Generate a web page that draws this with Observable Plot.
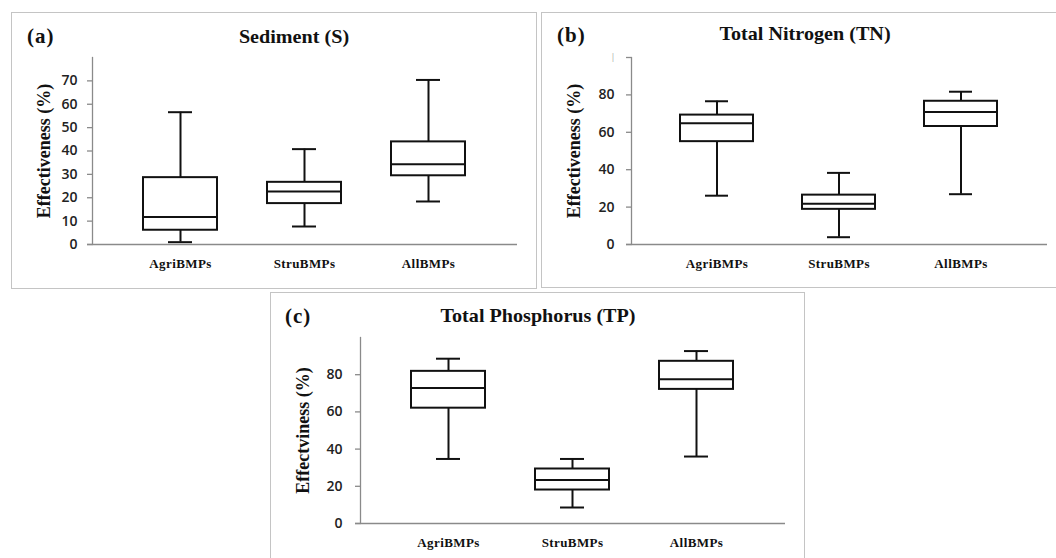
<!DOCTYPE html>
<html>
<head>
<meta charset="utf-8">
<script src="https://cdn.jsdelivr.net/npm/d3@7"></script>
<script src="https://cdn.jsdelivr.net/npm/@observablehq/plot@0.6"></script>
<style>
html, body { margin: 0; padding: 0; background: #fff; width: 1056px; height: 558px; overflow: hidden; }
body { position: relative; }
.border { position: absolute; box-sizing: border-box; border: 1.5px solid #c4c4c4; }
.holder { position: absolute; }
.holder svg { display: block; }
.ttl { position: absolute; font-family: "Liberation Serif", serif; font-weight: bold; white-space: nowrap; line-height: 1; color: #111; }
.ctr { transform: translateX(-50%) scaleX(1.06); }
g[aria-label="x-axis tick label"] text { letter-spacing: 0.4px; }
</style>
</head>
<body>
<div class="border" style="left:11px;top:12px;width:526px;height:277px"></div>
<div class="border" style="left:541px;top:11.5px;width:530px;height:276px"></div>
<div class="border" style="left:269.5px;top:292px;width:535px;height:290px"></div>

<div class="holder" id="pa" style="left:11px;top:12px"></div>
<div class="holder" id="pb" style="left:541px;top:12px"></div>
<div class="holder" id="pc" style="left:270px;top:292px"></div>

<div class="ttl" style="left:27px;top:26px;font-size:21px;letter-spacing:1px">(a)</div>
<div class="ttl ctr" style="left:294px;top:27px;font-size:19px">Sediment (S)</div>
<div class="ttl" style="left:557px;top:25px;font-size:21px;letter-spacing:1px">(b)</div>
<div class="ttl ctr" style="left:805px;top:24px;font-size:19px">Total Nitrogen (TN)</div>
<div class="ttl" style="left:285px;top:306px;font-size:21px;letter-spacing:1px">(c)</div>
<div class="ttl ctr" style="left:538px;top:306px;font-size:19px">Total Phosphorus (TP)</div>

<script>
const categories = ["AgriBMPs", "StruBMPs", "AllBMPs"];

// Sediment (S)
const sedMin = [1, 7.7, 18.4];
const sedQ1 = [6.1, 17.5, 29.4];
const sedMed = [11.8, 22.7, 34.3];
const sedQ3 = [28.6, 26.6, 43.9];
const sedMax = [56.6, 40.8, 70.4];

// Total Nitrogen (TN)
const tnMin = [26.1, 3.9, 26.9];
const tnQ1 = [55, 18.8, 63.1];
const tnMed = [64.9, 21.8, 70.8];
const tnQ3 = [69.2, 26.4, 76.6];
const tnMax = [76.6, 38.3, 81.7];

// Total Phosphorus (TP)
const tpMin = [34.7, 8.6, 36];
const tpQ1 = [62, 18, 72.1];
const tpMed = [72.8, 23.4, 77.5];
const tpQ3 = [81.8, 29.3, 87.2];
const tpMax = [88.6, 34.7, 92.7];

const sedTicks = [0, 10, 20, 30, 40, 50, 60, 70];
const nutTicks = [0, 20, 40, 60, 80];
const sedYMax = 80;
const nutYMax = 100;
const labelA = "Effectiveness (%)";
const labelB = "Effectiveness (%)";
const labelC = "Effectviness (%)";

function rows(mn, q1, md, q3, mx) {
  return categories.map((c, i) => ({cat: c, min: mn[i], q1: q1[i], med: md[i], q3: q3[i], max: mx[i]}));
}

function panel({data, yMax, ticks, tickTop, ylabel, labelDx, tickPadding, width, height, margins, extra = []}) {
  const box = {stroke: "#111", strokeWidth: 2};
  const allTicks = tickTop != null ? [...ticks, tickTop] : ticks;
  return Plot.plot({
    width, height, ...margins,
    style: {background: "transparent", overflow: "visible", fontFamily: "'Open Sans', sans-serif", fontSize: "14px"},
    x: {type: "band", domain: categories, padding: 0.4},
    y: {domain: [0, yMax]},
    marks: [
      Plot.frame({anchor: "left", stroke: "#8a8a8a", strokeWidth: 1.3}),
      Plot.axisY({ticks: allTicks, tickFormat: d => (d === tickTop ? "" : d), tickSize: 5, tickPadding,
        stroke: "#8a8a8a", strokeWidth: 1.3, fill: "#222", fontSize: 14, fontWeight: 600,
        fontFamily: "'Open Sans', sans-serif", label: null}),
      Plot.axisX({tickSize: 0, tickPadding: 14, fontFamily: "'Liberation Serif', serif", fontWeight: "bold",
        fontSize: 13, fill: "#111", label: null}),
      Plot.ruleY([0], {stroke: "#8a8a8a", strokeWidth: 1.5, insetLeft: -5}),
      Plot.ruleX(data, {x: "cat", y1: "min", y2: "q1", ...box}),
      Plot.ruleX(data, {x: "cat", y1: "q3", y2: "max", ...box}),
      Plot.tickY(data, {x: "cat", y: "min", inset: 25, ...box}),
      Plot.tickY(data, {x: "cat", y: "max", inset: 25, ...box}),
      Plot.barY(data, {x: "cat", y1: "q1", y2: "q3", fill: "white", ...box}),
      Plot.tickY(data, {x: "cat", y: "med", ...box}),
      Plot.text([ylabel], {frameAnchor: "left", textAnchor: "middle", rotate: -90, dx: labelDx,
        fontFamily: "'Liberation Serif', serif", fontWeight: "bold", fontSize: 18, fill: "#111"}),
      ...extra
    ]
  });
}

document.getElementById("pa").append(panel({
  data: rows(sedMin, sedQ1, sedMed, sedQ3, sedMax), yMax: sedYMax, ticks: sedTicks, tickTop: null,
  ylabel: labelA, labelDx: -48, tickPadding: 10, width: 526, height: 276,
  margins: {marginLeft: 81, marginTop: 45, marginBottom: 44, marginRight: 20}
}));

document.getElementById("pb").append(panel({
  data: rows(tnMin, tnQ1, tnMed, tnQ3, tnMax), yMax: nutYMax, ticks: nutTicks, tickTop: 100,
  ylabel: labelB, labelDx: -57, tickPadding: 12, width: 515, height: 275,
  margins: {marginLeft: 90, marginTop: 45, marginBottom: 43, marginRight: 9},
  extra: [Plot.text([100], {y: d => d, text: () => "|", frameAnchor: "left", textAnchor: "end", dx: -16,
    fill: "#aaa", fontSize: 9})]
}));

document.getElementById("pc").append(panel({
  data: rows(tpMin, tpQ1, tpMed, tpQ3, tpMax), yMax: nutYMax, ticks: nutTicks, tickTop: null,
  ylabel: labelC, labelDx: -57, tickPadding: 13, width: 534, height: 266,
  margins: {marginLeft: 90, marginTop: 45, marginBottom: 35, marginRight: 19}
}));
</script>
</body>
</html>
